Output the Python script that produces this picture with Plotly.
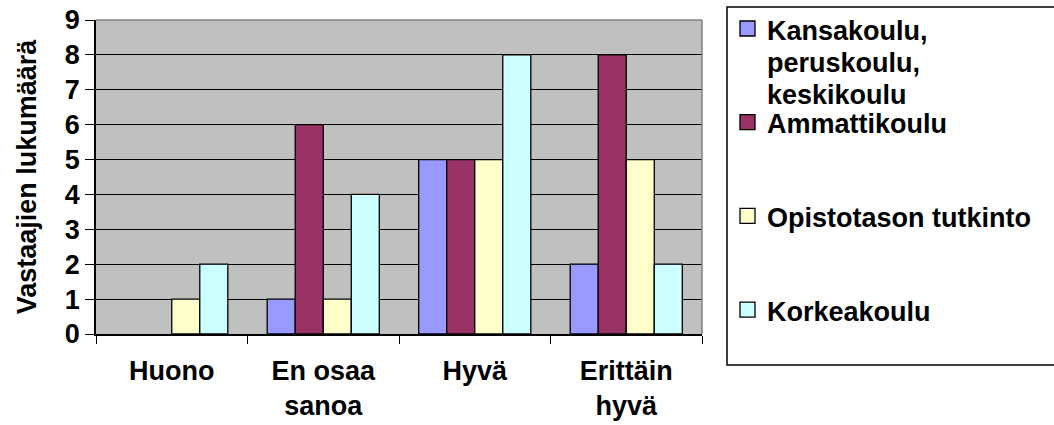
import plotly.graph_objects as go

# Survey answers: number of respondents per rating, by education level
categories = ["Huono", "En osaa<br>sanoa", "Hyvä", "Erittäin<br>hyvä"]
series_names = [
    "Kansakoulu,<br>peruskoulu,<br>keskikoulu",
    "Ammattikoulu",
    "Opistotason tutkinto",
    "Korkeakoulu",
]
kansakoulu = [0, 1, 5, 2]
ammattikoulu = [0, 6, 5, 8]
opistotaso = [1, 1, 5, 5]
korkeakoulu = [2, 4, 8, 2]
series_values = [kansakoulu, ammattikoulu, opistotaso, korkeakoulu]
colors = ["#9999FF", "#993366", "#FFFFCC", "#CCFFFF"]
y_ticks = list(range(0, 10))

FONT = "Liberation Sans, Arial, sans-serif"
FS = 27
W, H = 1054, 425
ML, MR, MT, MB = 96, 352, 20, 91
PW, PH = W - ML - MR, H - MT - MB


def px_x(x):
    return (x - ML) / PW


def px_y(y):
    return (H - MB - y) / PH


fig = go.Figure()
for name, vals, col in zip(series_names, series_values, colors):
    fig.add_trace(go.Bar(
        x=categories, y=vals, name=name,
        marker=dict(color=col,
                    line=dict(color="black", width=[1.3 if v else 0 for v in vals])),
        showlegend=False,
    ))

shapes = [
    # grey frame on the top and right of the plotting area
    dict(type="line", xref="paper", yref="paper", x0=0, x1=1, y0=1, y1=1,
         line=dict(color="#808080", width=1.5), layer="above"),
    dict(type="line", xref="paper", yref="paper", x0=1, x1=1, y0=0, y1=1,
         line=dict(color="#808080", width=1.5), layer="above"),
    # legend box
    dict(type="rect", xref="paper", yref="paper",
         x0=px_x(727), x1=px_x(1062), y0=px_y(7), y1=px_y(365),
         line=dict(color="black", width=1.5), fillcolor="white"),
]
annotations = []
entry_top, entry_step, line_h = 28.5, 93.7, 32
for i, (name, col) in enumerate(zip(series_names, colors)):
    cy = entry_top + i * entry_step
    shapes.append(dict(type="rect", xref="paper", yref="paper",
                       x0=px_x(740), x1=px_x(755), y0=px_y(cy - 7.5), y1=px_y(cy + 7.5),
                       line=dict(color="black", width=1.3), fillcolor=col))
    for k, line in enumerate(name.split("<br>")):
        annotations.append(dict(
            xref="paper", yref="paper", x=px_x(765), y=px_y(cy + k * line_h + 2),
            xanchor="left", yanchor="middle", showarrow=False, text=line,
            font=dict(family=FONT, size=FS, color="black", weight="bold"),
        ))

fig.update_layout(
    width=W, height=H,
    margin=dict(l=ML, r=MR, t=MT, b=MB),
    paper_bgcolor="white", plot_bgcolor="#C0C0C0",
    barmode="group", bargap=0.26, bargroupgap=0,
    font=dict(family=FONT, size=FS, color="black"),
    shapes=shapes, annotations=annotations,
    xaxis=dict(
        automargin=False,
        showline=True, linecolor="black", linewidth=1.5,
        ticks="outside", tickson="boundaries", ticklen=8, tickcolor="black",
        tickfont=dict(family=FONT, size=FS, color="black", weight="bold"),
        showgrid=False, ticklabelstandoff=12,
    ),
    yaxis=dict(
        automargin=False,
        range=[0, 9], tickvals=y_ticks,
        showline=True, linecolor="black", linewidth=1.5,
        ticks="outside", ticklen=9, tickcolor="black",
        tickfont=dict(family=FONT, size=FS, color="black", weight="bold"),
        showgrid=True, gridcolor="black", gridwidth=1.3, zeroline=False,
        title=dict(text="Vastaajien lukumäärä", standoff=20,
                   font=dict(family=FONT, size=FS, color="black", weight="bold")),
    ),
)

fig.write_html("out.html")
